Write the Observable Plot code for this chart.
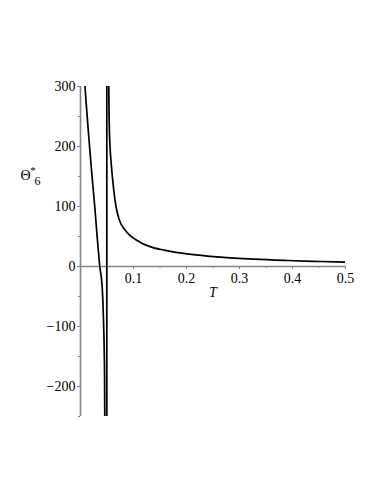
<!DOCTYPE html>
<html><head><meta charset="utf-8">
<script src="https://cdn.jsdelivr.net/npm/d3@7"></script>
<script src="https://cdn.jsdelivr.net/npm/@observablehq/plot@0.6"></script>
<style>body{margin:0;background:#fff} svg text{font-family:"Liberation Serif","Times New Roman",serif}</style>
</head><body><div id="chart"></div>
<script>
// Curve samples (T, Θ*6); large values lie off-chart and are clipped.
// Branch: L = left branch, J = jump joining the two branches, R = right branch
const curveT = [0.0060, 0.0085, 0.0108, 0.0157, 0.0208, 0.0264, 0.0315, 0.0364, 0.0409, 0.0434, 0.0453, 0.0458, 0.0496,
                0.0496, 0.0497,
                0.0497, 0.0534, 0.0543, 0.0557, 0.0579, 0.0628, 0.0670, 0.0723, 0.0849, 0.0943, 0.1038, 0.1132, 0.1226,
                0.1383, 0.1600, 0.2013, 0.2642, 0.3270, 0.3900, 0.4528, 0.5000];
const curveV = [340, 300, 271, 215, 160, 105, 49, 0, -34, -90, -173, -250, -20000,
                -20000, 20000,
                20000, 300, 235, 200, 172, 127, 100, 80, 60, 51, 45, 40, 36,
                31, 27, 21, 15.5, 12.2, 10, 8.3, 7.2];
const curveBranch = ["L","L","L","L","L","L","L","L","L","L","L","L","L",
                     "J","J",
                     "R","R","R","R","R","R","R","R","R","R","R","R","R",
                     "R","R","R","R","R","R","R","R"];

const xTicks = [0.1, 0.2, 0.3, 0.4, 0.5];
const xTickLabels = ["0.1", "0.2", "0.3", "0.4", "0.5"];
const xMinorTicks = [0.05, 0.15, 0.25, 0.35, 0.45];
const yTicks = [-200, -100, 0, 100, 200, 300];
const yTickLabels = ["\u2212200", "\u2212100", "0", "100", "200", "300"];
const yMinorTicks = [-250, -150, -50, 50, 150, 250];
const xDomain = [0, 0.5];
const yDomain = [-250, 300];

const curve = curveT.map((t, i) => ({T: t, v: curveV[i], b: curveBranch[i]}));

const W = 382, H = 494, mL = 80, mR = 37, mT = 86, mB = 78;
const yPix = d3.scaleLinear(yDomain, [H - mB, mT]);
const zeroDy = yPix(0) - (H - mB);
const axisColor = "#858585";
const font = "'Liberation Serif', 'Times New Roman', serif";

const chart = Plot.plot({
  width: W, height: H,
  marginLeft: mL, marginRight: mR, marginTop: mT, marginBottom: mB,
  style: `font-family: ${font}; font-size: 14px; color: #000; background: #fff;`,
  x: {domain: xDomain, label: null},
  y: {domain: yDomain, label: null},
  marks: [
    Plot.ruleX([0], {stroke: axisColor, strokeWidth: 1.6}),
    Plot.ruleY([0], {stroke: axisColor, strokeWidth: 1.4}),
    Plot.axisY({ticks: yMinorTicks, tickFormat: () => "", tickSize: 2, stroke: axisColor, label: null}),
    Plot.axisY({ticks: yTicks, tickFormat: d => yTickLabels[yTicks.indexOf(d)], tickSize: 3, tickPadding: 2,
                stroke: axisColor, fill: "#000", fontFamily: font, fontSize: 14, label: null}),
    Plot.axisX({ticks: xMinorTicks, tickFormat: () => "", anchor: "bottom", dy: zeroDy, tickSize: 2,
                stroke: axisColor, label: null}),
    Plot.axisX({ticks: xTicks, tickFormat: d => xTickLabels[xTicks.indexOf(d)], anchor: "bottom", dy: zeroDy,
                tickSize: 3, tickPadding: 4, stroke: axisColor, fill: "#000", fontFamily: font, fontSize: 14, label: null}),
    Plot.line(curve, {x: "T", y: "v", z: "b", stroke: "#000", strokeWidth: 1.7, clip: true, curve: "monotone-x"}),
    Plot.text(["T"], {x: () => 0.25, y: () => 0, dy: 26, text: d => d, fontStyle: "italic", fontFamily: font, fontSize: 14, fill: "#000"}),
    Plot.text(["\u0398"], {frameAnchor: "top-left", textAnchor: "middle", lineAnchor: "middle", dx: -55, dy: 89,
                           text: d => d, fontFamily: font, fontSize: 14, fill: "#000"}),
    Plot.text(["*"], {frameAnchor: "top-left", textAnchor: "middle", lineAnchor: "middle", dx: -47.5, dy: 84,
                      text: d => d, fontFamily: font, fontSize: 11, fill: "#000"}),
    Plot.text(["6"], {frameAnchor: "top-left", textAnchor: "middle", lineAnchor: "middle", dx: -43, dy: 95,
                      text: d => d, fontFamily: font, fontSize: 12, fill: "#000"})
  ]
});
document.getElementById("chart").appendChild(chart);
</script>
</body></html>
